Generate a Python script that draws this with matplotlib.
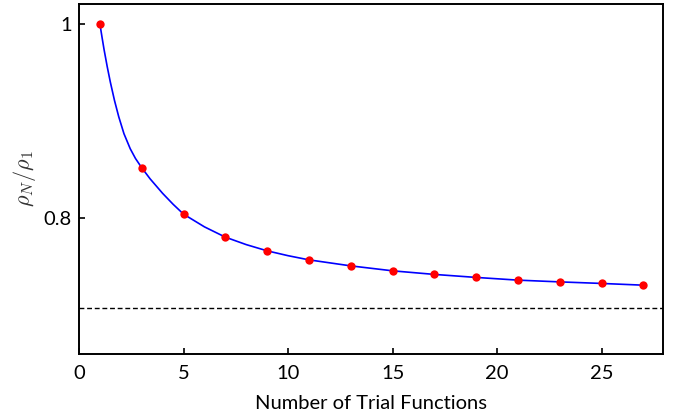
#!/usr/bin/env python3
"""
Ratio rho_N / rho_1 against the number of trial functions.
"""

import matplotlib
matplotlib.use("Agg")
import matplotlib.pyplot as plt

plt.rcParams['font.family'] = ['Lato', 'DejaVu Sans']
plt.rcParams['mathtext.fontset'] = 'cm'

# --- data
n_trial = [1, 3, 5, 7, 9, 11, 13, 15, 17, 19, 21, 23, 25, 27]
ratio = [1.0, 0.8519, 0.8041, 0.7804, 0.7663, 0.7570, 0.7508,
         0.7457, 0.7420, 0.7389, 0.7361, 0.7343, 0.7327, 0.7309]

# smooth curve
curve_x = [1, 1.1, 1.2, 1.35, 1.5, 1.7, 1.9, 2.15, 2.45, 2.7, 3, 3.4, 4,
           4.5, 5, 6, 7, 8, 9, 10, 11, 13, 15, 17, 19, 21, 23, 25, 27]
curve_y = [1.0, 0.9865, 0.9735, 0.956, 0.940, 0.921, 0.9045, 0.887, 0.8715,
           0.8615, 0.8519, 0.8405, 0.8255, 0.8143, 0.8041, 0.7910, 0.7804,
           0.7727, 0.7663, 0.7613, 0.7570, 0.7508, 0.7457, 0.7420, 0.7389,
           0.7361, 0.7343, 0.7327, 0.7309]

limit = 0.707

xticks = [0, 5, 10, 15, 20, 25]
yticks = [0.8, 1.0]
ytick_labels = ['0.8', '1']

fig = plt.figure(figsize=(6.77, 4.18), dpi=100)
ax = fig.add_axes([0.1167, 0.1531, 0.8631, 0.8373])

ax.plot(curve_x, curve_y, color='#0000ff', lw=1.2, zorder=2)
ax.plot(n_trial, ratio, 'o', color='#ff0000', ms=6, mec='none', zorder=3)
ax.axhline(limit, color='black', lw=1.0, ls=(0, (3.5, 2)), zorder=1)

ax.set_xlim(0, 27.95)
ax.set_ylim(0.66, 1.0206)
ax.set_xticks(xticks)
ax.set_yticks(yticks)
ax.set_yticklabels(ytick_labels)
ax.minorticks_off()
ax.tick_params(direction='in', length=4.5, width=1.2, labelsize=14.5,
               top=False, right=False)
ax.tick_params(axis='x', pad=8)
ax.tick_params(axis='y', pad=5)

for s in ax.spines.values():
    s.set_linewidth(1.4)

ax.set_xlabel('Number of Trial Functions', fontsize=14.5, labelpad=9)
ax.set_ylabel(r'$\rho_N/\rho_1$', fontsize=16, color='#333333', labelpad=4)

fig.savefig('out.png', dpi=100)
